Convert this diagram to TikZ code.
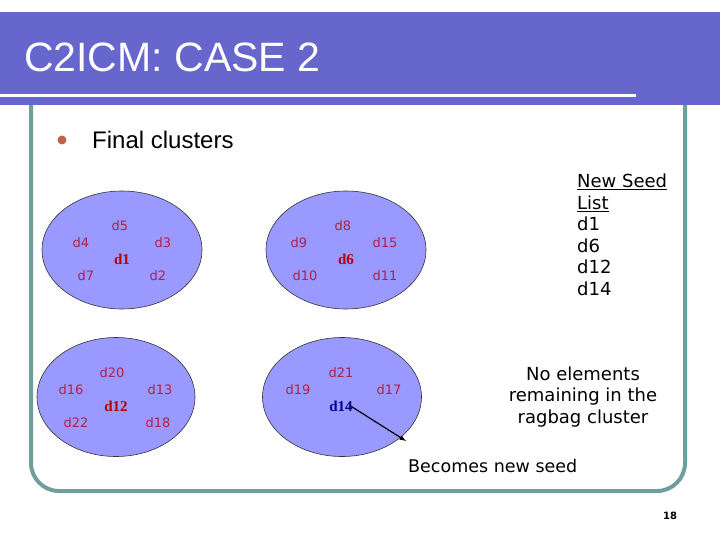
\documentclass[tikz,border=0pt]{standalone}
\usetikzlibrary{shapes.geometric,arrows}
\usepackage{fontspec}
\setmainfont{Liberation Sans}
\newfontfamily\dv{DejaVu Sans}
\newfontfamily\tms{Liberation Serif}
\begin{document}
\begin{tikzpicture}[x=1pt,y=-1pt,
  seed/.style={text=red!70!black,font=\tms\bfseries\fontsize{15}{15}\selectfont,inner sep=0},
  side/.style={font=\dv\fontsize{18}{21.5}\selectfont,inner sep=0,align=left}]
\useasboundingbox (0,0) rectangle (720,540);
\definecolor{tb}{HTML}{6666CC}
\definecolor{fr}{HTML}{6F9E9C}
\definecolor{cl}{HTML}{9999FF}
\definecolor{lb}{HTML}{B0204A}
\tikzset{clu/.style={ellipse,draw=black!80,fill=cl,line width=0.6pt,inner sep=0},
  lab/.style={text=lb,font=\dv\fontsize{13}{13}\selectfont,inner sep=0}}
% frame
\draw[fr,line width=4pt,rounded corners=28pt] (31,100) -- (31,491) -- (685,491) -- (685,100);
% title bar
\fill[tb] (0,12) rectangle (720,105);
\draw[white,line width=3pt] (0,96) -- (636,96);
\node[anchor=west,text=white,font=\fontsize{41}{41}\selectfont,inner sep=0] (title) at (24,57) {C2ICM: CASE 2};
\fill[red!30!brown!70!gray] (62,140) circle (4.5);
\node[anchor=west,font=\fontsize{24}{24}\selectfont,inner sep=0] (fc) at (92,140) {Final clusters};
% clusters
\node[clu,minimum width=160,minimum height=118] (c1) at (122,250) {};
\node[clu,minimum width=160,minimum height=118] (c2) at (346,250) {};
\node[clu,minimum width=158,minimum height=119] (c3) at (116,397) {};
\node[clu,minimum width=159,minimum height=119] (c4) at (342,397) {};
% cluster 1
\node[lab] (d5) at (120,226) {d5};
\node[lab] (d4) at (81,243) {d4};
\node[lab] (d3) at (163,243) {d3};
\node[seed] (d1) at (122,259) {d1};
\node[lab] (d7) at (86,276) {d7};
\node[lab] (d2) at (158,276) {d2};
% cluster 2
\node[lab] (d8) at (343,226) {d8};
\node[lab] (d9) at (299,243) {d9};
\node[lab] (d15) at (385,243) {d15};
\node[seed] (d6) at (346,259) {d6};
\node[lab] (d10) at (305,276) {d10};
\node[lab] (d11) at (385,276) {d11};
% cluster 3
\node[lab] (d20) at (112,373) {d20};
\node[lab] (d16) at (71,390) {d16};
\node[lab] (d13) at (160,390) {d13};
\node[seed] (d12) at (116,406) {d12};
\node[lab] (d22) at (76,423) {d22};
\node[lab] (d18) at (158,423) {d18};
% cluster 4
\node[lab] (d21) at (341,373) {d21};
\node[lab] (d19) at (298,390) {d19};
\node[lab] (d17) at (389,390) {d17};
\node[text=blue!60!black,font=\tms\bfseries\fontsize{15}{15}\selectfont,inner sep=0] (d14) at (341,406) {d14};
% texts
\node[side,anchor=north west] (list) at (577,174) {\underline{New Seed}\\\underline{List}\\d1\\d6\\d12\\d14};
\node[side,align=center] (ragbag) at (583,397) {No elements\\remaining in the\\ragbag cluster};
\node[anchor=west,font=\dv\fontsize{17.5}{17.5}\selectfont,inner sep=0] (becomes) at (408,466) {Becomes new seed};
\coordinate (tip) at (406,441);
\draw[-latex,line width=1.2pt] (349,405) -- (tip);
\node[font=\dv\bfseries\fontsize{10}{10}\selectfont,inner sep=0] (pg) at (670,516) {18};
\end{tikzpicture}
\end{document}
